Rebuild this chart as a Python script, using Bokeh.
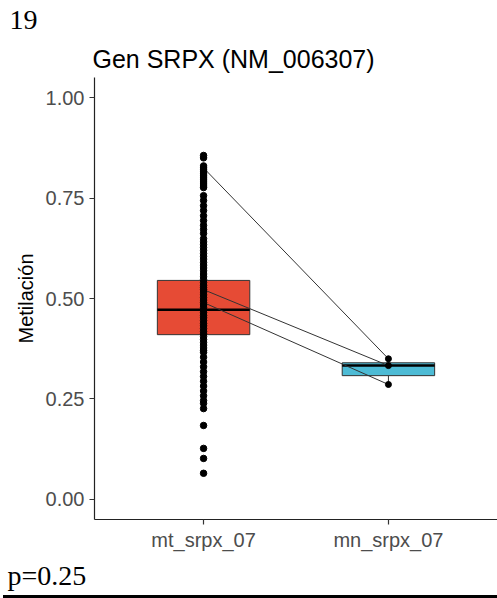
from bokeh.plotting import figure
from bokeh.models import Range1d, FixedTicker, Title, ColumnDataSource, Div
from bokeh.layouts import column
from bokeh.embed import file_html
from bokeh.resources import INLINE

# ---- data ----
categories = ["mt_srpx_07", "mn_srpx_07"]
cat_pos = [1, 2]
box_q1 = [0.410, 0.308]
box_median = [0.472, 0.333]
box_q3 = [0.545, 0.340]
whisker_low = [0.226, 0.286]
whisker_high = [0.746, 0.350]
box_colors = ["#E64B35", "#4DBBD5"]

mt_values = [0.856, 0.850, 0.830, 0.825, 0.820, 0.815, 0.810, 0.805, 0.800, 0.795,
             0.790, 0.785, 0.780, 0.776, 0.756, 0.744, 0.731, 0.719, 0.706, 0.694,
             0.682, 0.672, 0.662, 0.649, 0.641, 0.634, 0.627, 0.620, 0.612, 0.605,
             0.598, 0.590, 0.583, 0.576, 0.569, 0.561, 0.554, 0.547, 0.540, 0.533,
             0.527, 0.522, 0.516, 0.509, 0.502, 0.496, 0.490, 0.484, 0.478, 0.471,
             0.465, 0.458, 0.452, 0.445, 0.438, 0.432, 0.425, 0.418, 0.412, 0.405,
             0.398, 0.391, 0.384, 0.377, 0.371, 0.366, 0.354, 0.342, 0.330, 0.318,
             0.306, 0.294, 0.282, 0.270, 0.258, 0.246, 0.239, 0.226, 0.184, 0.127,
             0.102, 0.065]
mn_values = [0.350, 0.333, 0.286]

pair_mt = [0.825, 0.522, 0.490]
pair_mn = [0.350, 0.333, 0.286]

y_ticks = [0.0, 0.25, 0.5, 0.75, 1.0]
y_tick_labels = ["0.00", "0.25", "0.50", "0.75", "1.00"]

title_text = "Gen SRPX (NM_006307)"
y_label = "Metilación"
panel_number = "19"
p_text = "p=0.25"

# ---- figure ----
FL, FT, FB = 94, 77, 519  # frame left / top / bottom in canvas pixels
H = 595
p = figure(width=497, height=H, output_backend="svg", toolbar_location=None,
           x_range=Range1d(0.41, 2.59), y_range=Range1d(-0.05, 1.05),
           min_border_left=FL, min_border_right=0, min_border_top=FT,
           min_border_bottom=H - FB)
p.xgrid.visible = False
p.ygrid.visible = False
p.outline_line_color = None
p.background_fill_color = "white"
p.border_fill_color = "white"
p.title.visible = False

box_width = 0.5
src = ColumnDataSource(dict(x=cat_pos, q1=box_q1, med=box_median, q3=box_q3,
                            lo=whisker_low, hi=whisker_high, color=box_colors,
                            left=[c - box_width / 2 for c in cat_pos],
                            right=[c + box_width / 2 for c in cat_pos]))

p.segment(x0="x", y0="q3", x1="x", y1="hi", source=src, line_color="#333333", line_width=1)
p.segment(x0="x", y0="q1", x1="x", y1="lo", source=src, line_color="#333333", line_width=1)
p.quad(left="left", right="right", bottom="q1", top="q3", source=src,
       fill_color="color", line_color="#333333", line_width=1)
p.segment(x0="left", y0="med", x1="right", y1="med", source=src,
          line_color="black", line_width=2.5)

p.segment(x0=[cat_pos[0]] * len(pair_mt), y0=pair_mt,
          x1=[cat_pos[1]] * len(pair_mn), y1=pair_mn,
          line_color="#333333", line_width=1)

p.scatter(x=[cat_pos[0]] * len(mt_values), y=mt_values, size=6.5,
          fill_color="black", line_color="black")
p.scatter(x=[cat_pos[1]] * len(mn_values), y=mn_values, size=6,
          fill_color="black", line_color="black")

for ax in (p.xaxis[0], p.yaxis[0]):
    ax.axis_line_color = "#222222"
    ax.axis_line_width = 1.2
    ax.major_tick_line_color = "#333333"
    ax.major_tick_line_width = 1.2
    ax.major_tick_out = 5
    ax.major_tick_in = 0
    ax.minor_tick_line_color = None
    ax.major_label_text_font = "Liberation Sans"
    ax.major_label_text_font_size = "20px"
    ax.major_label_text_color = "#4D4D4D"

p.xaxis.ticker = FixedTicker(ticks=cat_pos)
p.xaxis.major_label_overrides = {c: n for c, n in zip(cat_pos, categories)}
p.xaxis.major_label_standoff = 4

p.yaxis.ticker = FixedTicker(ticks=y_ticks)
p.yaxis.major_label_overrides = {t: l for t, l in zip(y_ticks, y_tick_labels)}
p.yaxis.major_label_standoff = 5
p.yaxis.axis_label = y_label
p.yaxis.axis_label_text_font = "Liberation Sans"
p.yaxis.axis_label_text_font_size = "20px"
p.yaxis.axis_label_text_font_style = "normal"
p.yaxis.axis_label_text_color = "black"
p.yaxis.axis_label_standoff = 6

# main title (closest to the panel), then the panel number above it
p.add_layout(Title(text=title_text, align="left", offset=92 - FL, standoff=10,
                   text_font="Liberation Sans", text_font_size="25px",
                   text_font_style="normal", text_color="black"), "above")
p.add_layout(Title(text=panel_number, align="left", offset=9 - FL, standoff=17,
                   text_font="Liberation Serif", text_font_size="28px",
                   text_font_style="normal", text_color="black"), "above")

# p-value, below the x axis
p.add_layout(Title(text=p_text, align="left", offset=7 - FL, standoff=8,
                   text_font="Liberation Serif", text_font_size="28px",
                   text_font_style="normal", text_color="black"), "below")

rule = Div(text="", width=494, height=3, margin=(0, 0, 0, 3),
           styles={"background-color": "black"})

layout = column(p, rule, spacing=0)
open("out.html", "w").write(file_html(layout, INLINE))
